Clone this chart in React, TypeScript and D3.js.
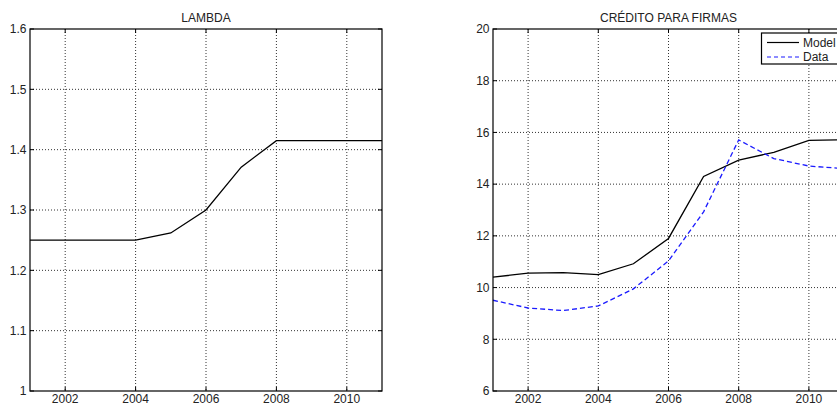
import React from "react";
import * as d3 from "d3";

const years = [2001, 2002, 2003, 2004, 2005, 2006, 2007, 2008, 2009, 2010, 2011];
const lambdaValues = [1.25, 1.25, 1.25, 1.25, 1.262, 1.3, 1.371, 1.415, 1.415, 1.415, 1.415];
const creditModel = [10.4, 10.56, 10.58, 10.5, 10.92, 11.9, 14.3, 14.93, 15.23, 15.69, 15.72];
const creditData = [9.51, 9.21, 9.11, 9.29, 9.95, 11.03, 12.93, 15.71, 14.99, 14.7, 14.6];
const xTicks = [2002, 2004, 2006, 2008, 2010];
const lambdaTicks = [1, 1.1, 1.2, 1.3, 1.4, 1.5, 1.6];
const creditTicks = [6, 8, 10, 12, 14, 16, 18, 20];

const FONT = "'Liberation Sans', Arial, Helvetica, sans-serif";
const FS = 12;

type Series = { values: number[]; color: string; dash?: string };

function Panel({ left, right, top, bottom, yDomain, yTicks, title, series, legend }: {
  left: number; right: number; top: number; bottom: number;
  yDomain: [number, number]; yTicks: number[]; title: string; series: Series[];
  legend?: boolean;
}) {
  const x = d3.scaleLinear().domain([2001, 2011]).range([left, right]);
  const y = d3.scaleLinear().domain(yDomain).range([bottom, top]);
  const line = d3.line<number>().x((_, i) => x(years[i])).y((d) => y(d));
  const fmt = (v: number) => (Number.isInteger(v) ? String(v) : v.toFixed(1));
  const tl = 4;
  return (
    <g>
      {xTicks.map((t) => (
        <line key={"gx" + t} x1={x(t)} x2={x(t)} y1={top} y2={bottom} stroke="#333" strokeWidth={1} strokeDasharray="1,2" />
      ))}
      {yTicks.filter((t) => t !== yDomain[0] && t !== yDomain[1]).map((t) => (
        <line key={"gy" + t} x1={left} x2={right} y1={y(t)} y2={y(t)} stroke="#333" strokeWidth={1} strokeDasharray="1,2" />
      ))}
      {xTicks.map((t) => (
        <g key={"tx" + t}>
          <line x1={x(t)} x2={x(t)} y1={bottom} y2={bottom - tl} stroke="#000" />
          <line x1={x(t)} x2={x(t)} y1={top} y2={top + tl} stroke="#000" />
          <text x={x(t)} y={bottom + 11.5} textAnchor="middle" fontSize={FS} fontFamily={FONT} fill="#222">{t}</text>
        </g>
      ))}
      {yTicks.map((t) => (
        <g key={"ty" + t}>
          <line x1={left} x2={left + tl} y1={y(t)} y2={y(t)} stroke="#000" />
          <line x1={right} x2={right - tl} y1={y(t)} y2={y(t)} stroke="#000" />
          <text x={left - 3.5} y={y(t) + 4.3} textAnchor="end" fontSize={FS} fontFamily={FONT} fill="#222">{fmt(t)}</text>
        </g>
      ))}
      {series.map((s, i) => (
        <path key={"s" + i} d={line(s.values) || ""} fill="none" stroke={s.color} strokeWidth={1.3} strokeDasharray={s.dash} />
      ))}
      <rect x={left} y={top} width={right - left} height={bottom - top} fill="none" stroke="#000" strokeWidth={1.2} />
      <text x={(left + right) / 2} y={top - 7.4} textAnchor="middle" fontSize={FS} fontFamily={FONT} fill="#222">{title}</text>
      {legend && (
        <g>
          <rect x={761.5} y={33} width={80} height={31} fill="#fff" stroke="#000" strokeWidth={1.2} />
          <line x1={767} x2={799} y1={42.5} y2={42.5} stroke="#000" strokeWidth={1.2} />
          <text x={803} y={46.5} fontSize={FS} fontFamily={FONT} fill="#222">Model</text>
          <line x1={767} x2={799} y1={57} y2={57} stroke="#1a1aff" strokeWidth={1.2} strokeDasharray="4,3" />
          <text x={803} y={60.7} fontSize={FS} fontFamily={FONT} fill="#222">Data</text>
        </g>
      )}
    </g>
  );
}

export default function App() {
  return (
    <svg width={837} height={403} style={{ position: "absolute", left: 0, top: 0, background: "#fff", overflow: "hidden" }}>
      <rect x={0} y={0} width={837} height={403} fill="#fff" />
      <Panel left={30} right={382} top={29} bottom={391} yDomain={[1, 1.6]} yTicks={lambdaTicks}
        title="LAMBDA" series={[{ values: lambdaValues, color: "#000" }]} />
      <Panel left={493} right={844} top={29} bottom={391} yDomain={[6, 20]} yTicks={creditTicks}
        title="CRÉDITO PARA FIRMAS" legend
        series={[{ values: creditModel, color: "#000" }, { values: creditData, color: "#1a1aff", dash: "5,3" }]} />
    </svg>
  );
}
